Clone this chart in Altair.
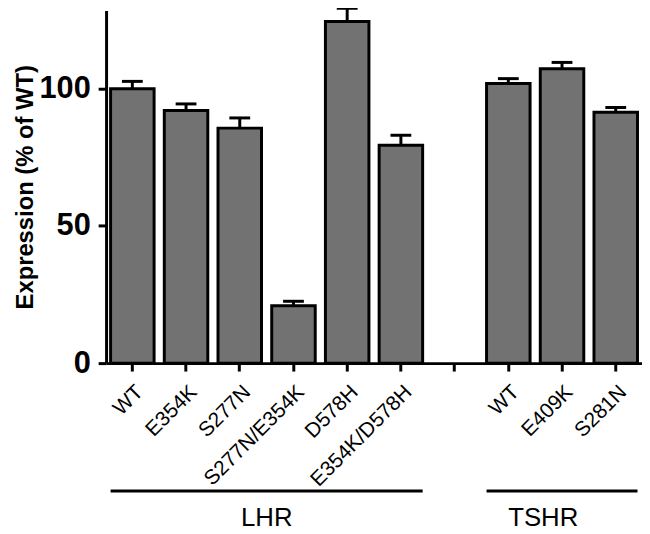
import altair as alt
import pandas as pd

# categories (gap slot between receptor groups has no bar)
keys = ["0|WT", "1|E354K", "2|S277N", "3|S277N/E354K", "4|D578H", "5|E354K/D578H",
        "6|", "7|WT", "8|E409K", "9|S281N"]
bar_keys = ["0|WT", "1|E354K", "2|S277N", "3|S277N/E354K", "4|D578H", "5|E354K/D578H",
            "7|WT", "8|E409K", "9|S281N"]
expression = [99.8, 91.9, 85.5, 20.9, 124.3, 79.3, 101.7, 107.1, 91.3]
sem = [2.7, 2.4, 3.7, 1.6, 4.8, 3.6, 1.8, 2.3, 1.7]

groups = ["LHR", "TSHR"]
group_start = ["0|WT", "7|WT"]
group_end = ["5|E354K/D578H", "9|S281N"]
group_label_at = ["3|S277N/E354K", "8|E409K"]
group_label_offset = [-5, 3]

df = pd.DataFrame({"key": bar_keys, "value": expression, "sem": sem})
df["top"] = df["value"] + df["sem"]
gdf = pd.DataFrame({"group": groups, "start": group_start, "end": group_end,
                    "at": group_label_at, "off": group_label_offset})

FONT = "Liberation Sans"
xscale = alt.Scale(domain=keys, paddingInner=0.19, paddingOuter=0.084)
yscale = alt.Scale(domain=[0, 128.3], nice=False, zero=True)

xaxis = alt.Axis(title=None, labelAngle=-45, labelFontSize=21, labelFont=FONT,
                 labelColor="black", labelExpr="split(datum.value, '|')[1]",
                 tickSize=8, tickWidth=3, tickColor="black", domainWidth=3,
                 domainColor="black", labelPadding=10, grid=False)
yaxis = alt.Axis(title="Expression (% of WT)", values=[0, 50, 100], labelFontSize=31,
                 labelFont=FONT, labelFontWeight="bold", labelColor="black",
                 titleFont=FONT, titleFontSize=24, titleFontWeight="bold",
                 titleColor="black", titlePadding=2, tickSize=8, tickWidth=3,
                 tickColor="black", domainWidth=3, domainColor="black",
                 labelPadding=8, grid=False)

bars = alt.Chart(df).mark_bar(color="#727272", stroke="black", strokeWidth=3).encode(
    x=alt.X("key:N", scale=xscale, axis=xaxis, sort=keys),
    y=alt.Y("value:Q", scale=yscale, axis=yaxis),
)
err = alt.Chart(df).mark_rule(color="black", strokeWidth=3).encode(
    x=alt.X("key:N", scale=xscale, sort=keys),
    y=alt.Y("value:Q", scale=yscale),
    y2="top:Q",
)
cap = alt.Chart(df).mark_tick(color="black", thickness=3, size=21, opacity=1).encode(
    x=alt.X("key:N", scale=xscale, sort=keys),
    y=alt.Y("top:Q", scale=yscale),
)
glines = alt.Chart(gdf).mark_rule(color="black", strokeWidth=3).encode(
    x=alt.X("start:N", scale=xscale, bandPosition=0),
    x2=alt.X2("end:N", bandPosition=1),
    y=alt.value(485),
)
gtext = alt.Chart(gdf).mark_text(font=FONT, fontSize=26, color="black",
                                 baseline="alphabetic", align="center").encode(
    x=alt.X("at:N", scale=xscale, bandPosition=0),
    xOffset=alt.XOffset("off:Q", scale=None),
    y=alt.value(520),
    text="group:N",
)

chart = alt.layer(bars, err, cap, glines, gtext).properties(
    width=541, height=356,
    background="white",
    autosize=alt.AutoSizeParams(type="none"),
    padding={"left": 99, "top": 0, "right": 0, "bottom": 170},
).configure_view(strokeWidth=0, stroke="transparent").configure_axis(grid=False)

chart.save("out.html", embed_options={"renderer": "svg", "actions": False})
